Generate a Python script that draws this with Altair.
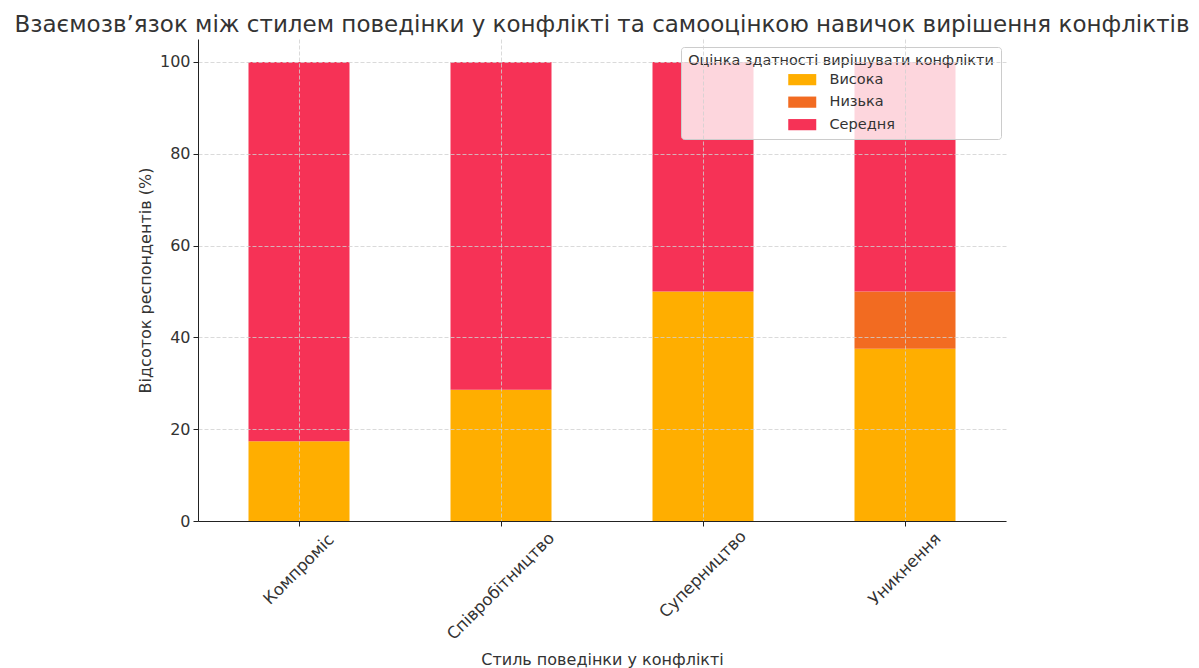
import altair as alt
import pandas as pd

# Conflict behaviour styles and self-rated conflict resolution skill levels
styles = ["Компроміс", "Співробітництво", "Суперництво", "Уникнення"]
levels = ["Висока", "Низька", "Середня"]

# Share of respondents (%) per style, one list per skill level
high = [17.4, 28.6, 50.0, 37.5]
low = [0.0, 0.0, 0.0, 12.5]
mid = [82.6, 71.4, 50.0, 50.0]

colors = ["#FFAE00", "#F26B21", "#F63256"]
y_ticks = [0, 20, 40, 60, 80, 100]

rows = []
for i, s in enumerate(styles):
    for rank, (lvl, vals) in enumerate(zip(levels, [high, low, mid])):
        rows.append({"style": s, "level": lvl, "pct": vals[i], "rank": rank})
df = pd.DataFrame(rows)

text_color = "#333333"
font = "DejaVu Sans"

# rotated category labels: longer names sit a little lower
label_pad = {
    "condition": [
        {"test": "datum.value === 'Співробітництво'", "value": 60},
        {"test": "datum.value === 'Суперництво'", "value": 48},
    ],
    "value": 43,
}

chart = (
    alt.Chart(df)
    .mark_bar()
    .encode(
        x=alt.X(
            "style:N",
            sort=styles,
            scale=alt.Scale(paddingInner=0.5, paddingOuter=0.25),
            axis=alt.Axis(
                title="Стиль поведінки у конфлікті",
                labelAngle=315,
                labelAlign="center",
                labelBaseline="middle",
                labelPadding=label_pad,
                labelFontSize=16.5,
                labelColor=text_color,
                titleFontSize=16,
                titleFontWeight="normal",
                titleColor=text_color,
                titleY=143,
                titleBaseline="alphabetic",
                tickSize=5,
                tickColor="#222222",
                domainColor="#222222",
                grid=True,
                gridColor="#d0d0d0",
                gridDash=[4, 2],
                gridWidth=0.8,
                zindex=1,
            ),
        ),
        y=alt.Y(
            "pct:Q",
            stack="zero",
            scale=alt.Scale(domain=[0, 105], nice=False),
            axis=alt.Axis(
                title="Відсоток респондентів (%)",
                values=y_ticks,
                labelFontSize=16,
                labelColor=text_color,
                labelPadding=3,
                titleFontSize=16,
                titleFontWeight="normal",
                titleColor=text_color,
                titleX=-53,
                titleY=241,
                titleBaseline="middle",
                tickSize=5,
                tickColor="#222222",
                domainColor="#222222",
                gridColor="#d0d0d0",
                gridDash=[4, 2],
                gridWidth=0.8,
                zindex=1,
            ),
        ),
        color=alt.Color(
            "level:N",
            scale=alt.Scale(domain=levels, range=colors),
            legend=alt.Legend(
                title="Оцінка здатності вирішувати конфлікти",
                orient="none",
                legendX=483,
                legendY=8,
                titleAnchor="middle",
                titleLimit=500,
                titleFontSize=14.4,
                titleFontWeight="normal",
                titleColor=text_color,
                titlePadding=4,
                labelFontSize=14.5,
                labelColor=text_color,
                symbolType="M-2,-0.8H2V0.8H-2Z",
                symbolSize=196,
                symbolStrokeWidth=0,
                symbolOpacity=1,
                symbolOffset=7,
                labelOffset=20,
                rowPadding=7.5,
                fillColor="rgba(255,255,255,0.8)",
                strokeColor="#cccccc",
                cornerRadius=3,
                padding=7,
            ),
        ),
        order=alt.Order("rank:Q"),
    )
    .properties(
        width=808,
        height=482,
        autosize=alt.AutoSizeParams(type="none"),
        padding={"left": 198, "top": 39, "right": 193, "bottom": 147},
        title=alt.TitleParams(
            "Взаємозв’язок між стилем поведінки у конфлікті та самооцінкою навичок вирішення конфліктів",
            anchor="middle",
            frame="group",
            fontSize=23,
            fontWeight="normal",
            color=text_color,
            baseline="alphabetic",
            offset=6,
            dy=22,
        ),
    )
    .configure(font=font)
    .configure_view(stroke=None)
)

chart.save("out.html", embed_options={"renderer": "svg", "actions": False})
